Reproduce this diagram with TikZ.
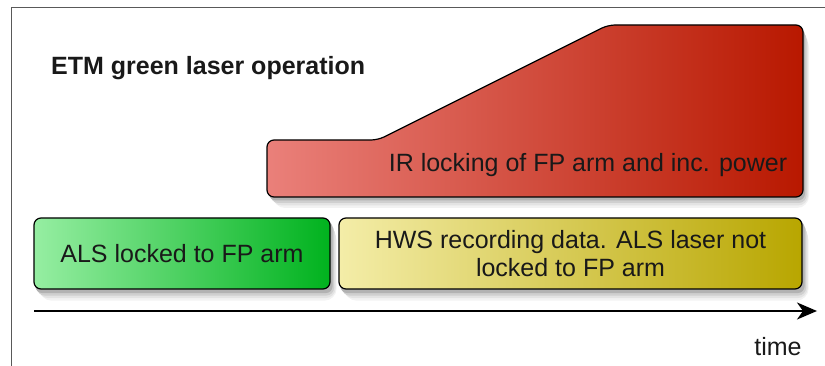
\documentclass[tikz,border=0pt]{standalone}
\usepackage{fontspec}
\setmainfont{Liberation Sans}
\usetikzlibrary{arrows.meta, positioning, backgrounds}

\definecolor{irlight}{RGB}{234,128,122}
\definecolor{irdark}{RGB}{184,24,0}
\definecolor{alslight}{RGB}{150,238,162}
\definecolor{alsdark}{RGB}{0,178,30}
\definecolor{hwslight}{RGB}{244,237,168}
\definecolor{hwsdark}{RGB}{184,166,0}
\definecolor{ink}{RGB}{25,25,25}

\begin{document}
\begin{tikzpicture}[x=1pt, y=-1pt,
	phase/.style={draw=black, line width=1.2pt, rounded corners=7pt,
		text=ink, font=\fontsize{25}{28}\selectfont, align=center, inner sep=0pt},
	shade1/.style={fill=black!5, rounded corners=12pt, transform canvas={xshift=6pt, yshift=-11pt}},
	shade2/.style={fill=black!11, rounded corners=10pt, transform canvas={xshift=5pt, yshift=-8.5pt}},
	shade3/.style={fill=black!19, rounded corners=8pt, transform canvas={xshift=3.5pt, yshift=-6pt}},
	shade4/.style={fill=black!30, rounded corners=7pt, transform canvas={xshift=2pt, yshift=-3.5pt}},
	label/.style={text=ink, font=\fontsize{25}{28}\selectfont, inner sep=0pt}]
				\useasboundingbox (0,0) rectangle (825,366);
				
				% Frame
				\draw[gray!70!black, line width=0.8pt] (825,7) -- (11,7) -- (11,366);
				
				% Title
				\node[label, anchor=west, font=\fontsize{25}{28}\selectfont\bfseries] (title) at (51,68) {ETM green laser operation};
				
				% IR locking and power ramp
				\coordinate (r1) at (267,197);
				\coordinate (r2) at (267,140);
				\coordinate (r3) at (378,140);
				\coordinate (r4) at (608,25);
				\coordinate (r5) at (803,25);
				\coordinate (r6) at (803,197);
				\foreach \s in {shade1,shade2,shade3,shade4}
					\path[\s] (r1) -- (r2) -- (r3) -- (r4) -- (r5) -- (r6) -- cycle;
				\path[phase, left color=irlight, right color=irdark]
				(r1) -- (r2) -- (r3) -- (r4) -- (r5) -- (r6) -- cycle;
				\node[label] (ir) at (588,165) {IR locking of FP arm and inc. power};
				
				% Green laser phases
				\node[phase, minimum width=296pt, minimum height=71pt, left color=alslight, right color=alsdark] (als) at (182,253.5) {ALS locked to FP arm};
				\node[phase, minimum width=463pt, minimum height=71pt, left color=hwslight, right color=hwsdark] (hws) at (570.5,253.5) {HWS recording data. ALS laser not\\locked to FP arm};
				\begin{scope}[on background layer]
					\foreach \s in {shade1,shade2,shade3,shade4} {
						\path[\s] (als.north west) rectangle (als.south east);
						\path[\s] (hws.north west) rectangle (hws.south east);
					}
				\end{scope}
				
				% Time axis
				\coordinate (t0) at (34,311);
				\coordinate (t1) at (817,311);
				\draw[line width=1.5pt, -{Stealth[length=20pt, width=17pt, inset=6pt]}] (t0) -- (t1);
				\node[label] (time) at (778,347) {time};
			\end{tikzpicture}
\end{document}
